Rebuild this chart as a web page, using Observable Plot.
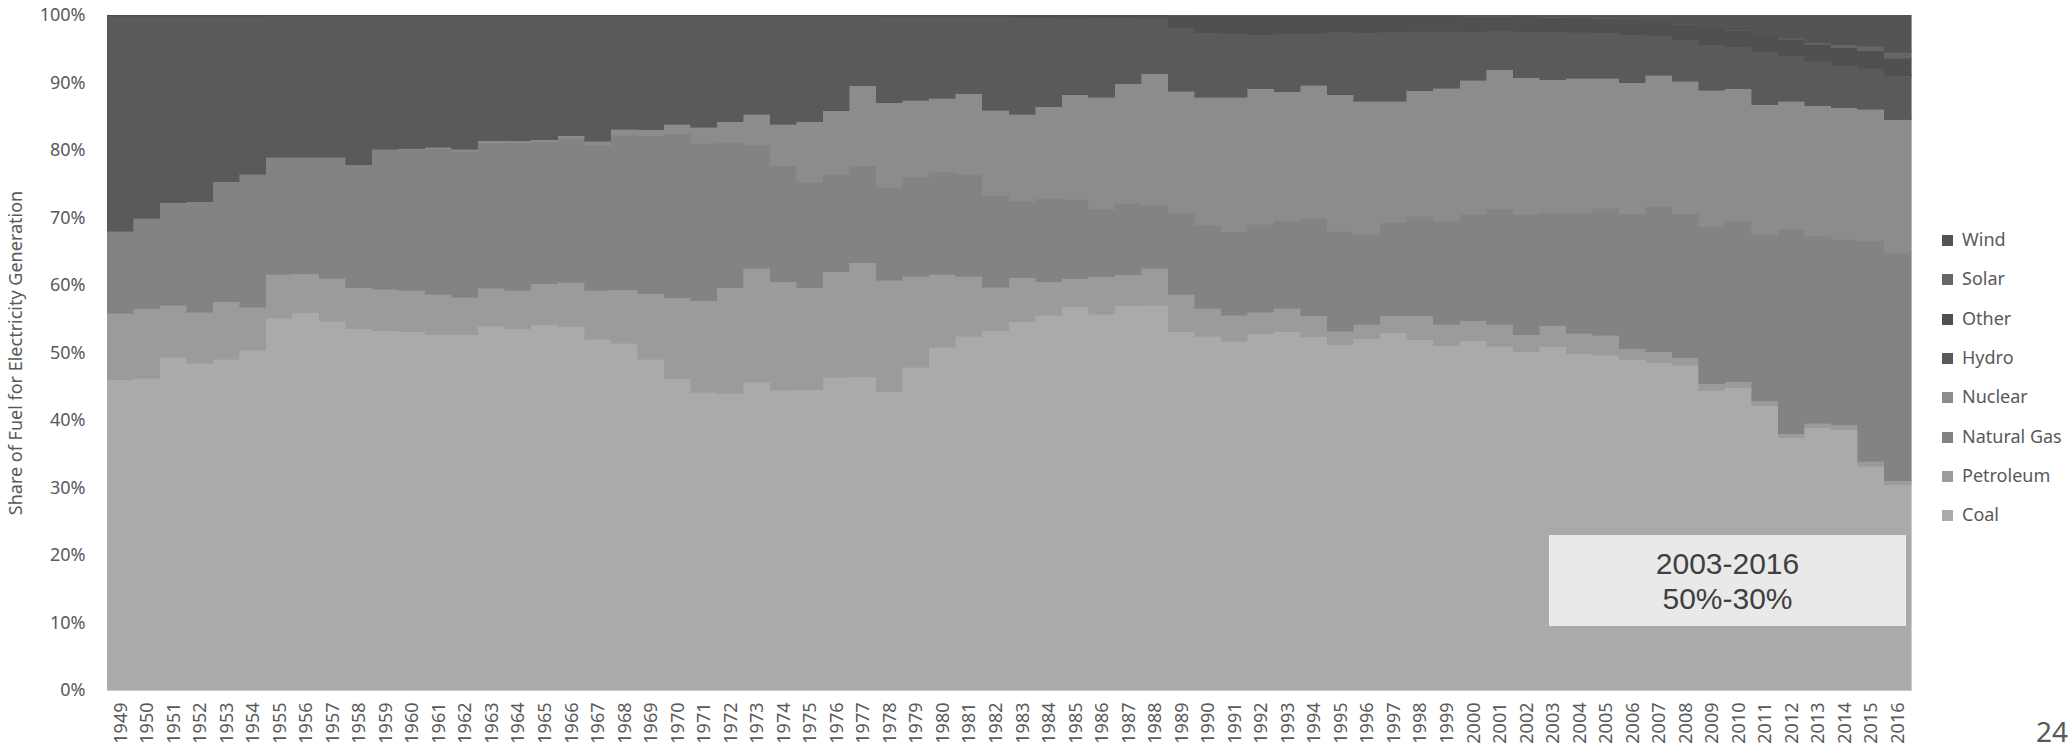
<!DOCTYPE html>
<html>
<head>
<meta charset="utf-8">
<script src="https://cdn.jsdelivr.net/npm/d3@7"></script>
<script src="https://cdn.jsdelivr.net/npm/@observablehq/plot@0.6"></script>
<style>
  html, body { margin: 0; padding: 0; background: #fff; }
  #wrap { position: relative; width: 2072px; height: 753px; overflow: hidden; font-family: "Noto Sans", sans-serif; }
  #legend { position: absolute; left: 1942px; top: 0; }
  .item { position: absolute; left: 0; white-space: nowrap; font-size: 18px; color: #595959; line-height: 20px; }
  .sw { display: inline-block; width: 11px; height: 11px; margin-right: 9px; vertical-align: 0px; }
  #box { position: absolute; left: 1549px; top: 535px; width: 357px; height: 91px; background: #e9e9e9;
         font-family: "Liberation Sans", Arial, sans-serif; font-size: 30px; color: #3f3f3f; text-align: center; line-height: 35px;
         display: flex; flex-direction: column; justify-content: center; }
  #page { position: absolute; right: 4px; top: 712px; font-size: 28px; color: #595959; }
</style>
</head>
<body>
<div id="wrap"></div>
<script>
const years = d3.range(1949, 2017).map(String);
const series = ["Coal", "Petroleum", "Natural Gas", "Nuclear", "Hydro", "Other", "Solar", "Wind"];
const seriesColors = ["#aaaaaa", "#9b9b9b", "#838383", "#8c8c8c", "#5a5a5a", "#505050", "#666666", "#545454"];

// shares (%) per year, 1949-2016
const coal = [46.0,46.2,49.3,48.4,49.0,50.3,55.1,55.9,54.6,53.5,53.2,53.1,52.6,52.6,53.9,53.5,54.1,53.8,52.0,51.4,49.0,46.1,44.1,44.0,45.6,44.4,44.5,46.3,46.4,44.2,47.8,50.8,52.4,53.2,54.5,55.5,56.8,55.7,56.9,57.0,53.1,52.5,51.7,52.8,53.1,52.2,51.0,51.7,52.8,51.8,50.9,51.7,50.9,50.1,50.8,49.8,49.6,49.0,48.5,48.2,44.4,44.8,42.3,37.4,38.9,38.6,33.2,30.4];
const petroleum = [9.8,10.3,7.7,7.6,8.5,6.4,6.5,5.8,6.4,6.1,6.2,6.1,6.0,5.6,5.6,5.7,6.1,6.6,7.2,7.9,9.7,12.0,13.6,15.6,16.9,16.1,15.1,15.7,16.9,16.5,13.5,10.8,8.9,6.5,6.5,5.0,4.1,5.5,4.6,5.5,5.6,4.1,3.9,3.2,3.5,3.1,2.0,2.2,2.5,3.6,3.2,2.9,3.3,2.5,3.1,3.0,3.0,1.6,1.6,1.1,1.0,0.9,0.7,0.6,0.7,0.8,0.7,0.6];
const naturalGas = [12.2,13.4,15.2,16.3,17.8,19.7,17.3,17.2,17.9,18.2,20.7,20.9,21.6,21.6,21.5,21.9,21.0,21.3,21.5,22.9,23.4,24.3,23.3,21.5,18.3,17.2,15.6,14.4,14.4,13.8,14.7,15.1,15.1,13.6,11.3,12.3,11.8,10.0,10.6,9.3,12.0,12.3,12.4,13.1,13.0,14.3,14.8,13.2,13.7,14.7,15.2,15.8,17.1,17.9,16.7,17.9,18.8,20.1,21.6,21.4,23.3,23.9,24.7,30.3,27.7,27.5,32.7,33.8];
const nuclear = [0,0,0,0,0,0,0,0,0.01,0.02,0.02,0.1,0.2,0.3,0.4,0.3,0.3,0.4,0.6,0.9,0.9,1.4,2.4,3.1,4.5,6.1,9.0,9.4,11.8,12.5,11.4,11.0,11.9,12.6,12.9,13.6,15.5,16.6,17.7,19.5,18.1,19.0,19.9,20.1,19.1,19.7,20.1,19.6,18.0,18.6,19.7,19.8,20.6,20.2,19.7,19.9,19.3,19.4,19.4,19.6,20.2,19.6,19.3,19.0,19.4,19.5,19.5,19.7];
const hydro = [31.8,29.9,27.6,27.5,24.5,23.4,21.0,21.0,21.0,22.1,19.8,19.7,19.5,19.8,18.5,18.5,18.4,17.8,18.6,16.8,16.9,16.1,16.5,15.7,14.6,16.1,15.7,14.1,10.4,12.8,12.4,12.1,11.5,13.9,14.4,13.2,11.3,11.8,9.8,8.2,9.4,9.6,9.5,8.0,8.7,7.7,9.3,10.1,10.2,8.8,8.4,7.2,5.8,6.8,7.1,6.8,6.7,7.1,5.9,6.2,6.8,6.2,7.9,6.7,6.6,6.3,6.1,6.5];
const other = [0.2,0.2,0.2,0.2,0.2,0.2,0.1,0.1,0.1,0.1,0.1,0.1,0.1,0.1,0.1,0.1,0.1,0.1,0.1,0.1,0.1,0.1,0.1,0.1,0.1,0.1,0.1,0.1,0.1,0.2,0.2,0.2,0.2,0.2,0.3,0.4,0.5,0.4,0.4,0.5,1.8,2.5,2.6,2.8,2.6,2.6,2.4,2.5,2.4,2.3,2.3,2.3,2.1,2.2,2.2,2.2,2.2,2.3,2.2,2.3,2.5,2.4,2.5,2.5,2.5,2.6,2.6,2.6];
const solar = [0,0,0,0,0,0,0,0,0,0,0,0,0,0,0,0,0,0,0,0,0,0,0,0,0,0,0,0,0,0,0,0,0,0,0,0,0,0,0,0,0.01,0.01,0.01,0.01,0.01,0.01,0.01,0.01,0.01,0.01,0.01,0.01,0.01,0.01,0.01,0.01,0.01,0.01,0.02,0.02,0.02,0.03,0.05,0.10,0.22,0.44,0.62,0.89];
const wind = [0,0,0,0,0,0,0,0,0,0,0,0,0,0,0,0,0,0,0,0,0,0,0,0,0,0,0,0,0,0,0,0,0,0,0,0,0,0,0,0,0.07,0.1,0.1,0.09,0.09,0.1,0.1,0.1,0.1,0.08,0.12,0.15,0.18,0.27,0.29,0.36,0.44,0.65,0.83,1.34,1.86,2.29,2.92,3.46,4.13,4.44,4.67,5.55];

const valuesBySeries = [coal, petroleum, naturalGas, nuclear, hydro, other, solar, wind];
const rows = [];
years.forEach((yr, i) => {
  series.forEach((s, j) => rows.push({year: yr, fuel: s, value: valuesBySeries[j][i]}));
});

const chart = Plot.plot({
  width: 2072,
  height: 753,
  marginLeft: 107,
  marginRight: 161,
  marginTop: 15,
  marginBottom: 63,
  style: {fontFamily: "Noto Sans", fontSize: "18px", color: "#595959", background: "transparent"},
  x: {type: "band", domain: years, padding: 0},
  y: {domain: [0, 1]},
  color: {domain: series, range: seriesColors},
  marks: [
    Plot.barY(rows, Plot.stackY({x: "year", y: "value", fill: "fuel", stroke: "fuel", strokeWidth: 0.6,
                                 order: series, offset: "normalize", shapeRendering: "crispEdges"})),
    Plot.axisX({tickRotate: -90, tickSize: 0, tickPadding: 12, label: null, fontSize: 18}),
    Plot.axisY({ticks: d3.range(0, 1.01, 0.1), tickFormat: d3.format(".0%"), tickSize: 0, tickPadding: 22,
                label: "Share of Fuel for Electricity Generation", labelAnchor: "center", labelArrow: "none", labelOffset: 98, fontSize: 18})
  ]
});

const wrap = document.getElementById("wrap");
wrap.appendChild(chart);

// legend
const legend = document.createElement("div");
legend.id = "legend";
const legendOrder = series.slice().reverse();
legendOrder.forEach((s, k) => {
  const it = document.createElement("div");
  it.className = "item";
  it.style.top = (229 + k * 39.3) + "px";
  const sw = document.createElement("span");
  sw.className = "sw";
  sw.style.background = seriesColors[series.indexOf(s)];
  it.appendChild(sw);
  it.appendChild(document.createTextNode(s));
  legend.appendChild(it);
});
wrap.appendChild(legend);

const box = document.createElement("div");
box.id = "box";
box.innerHTML = "<div>2003-2016</div><div>50%-30%</div>";
wrap.appendChild(box);

const page = document.createElement("div");
page.id = "page";
page.textContent = "24";
wrap.appendChild(page);
</script>
</body>
</html>
